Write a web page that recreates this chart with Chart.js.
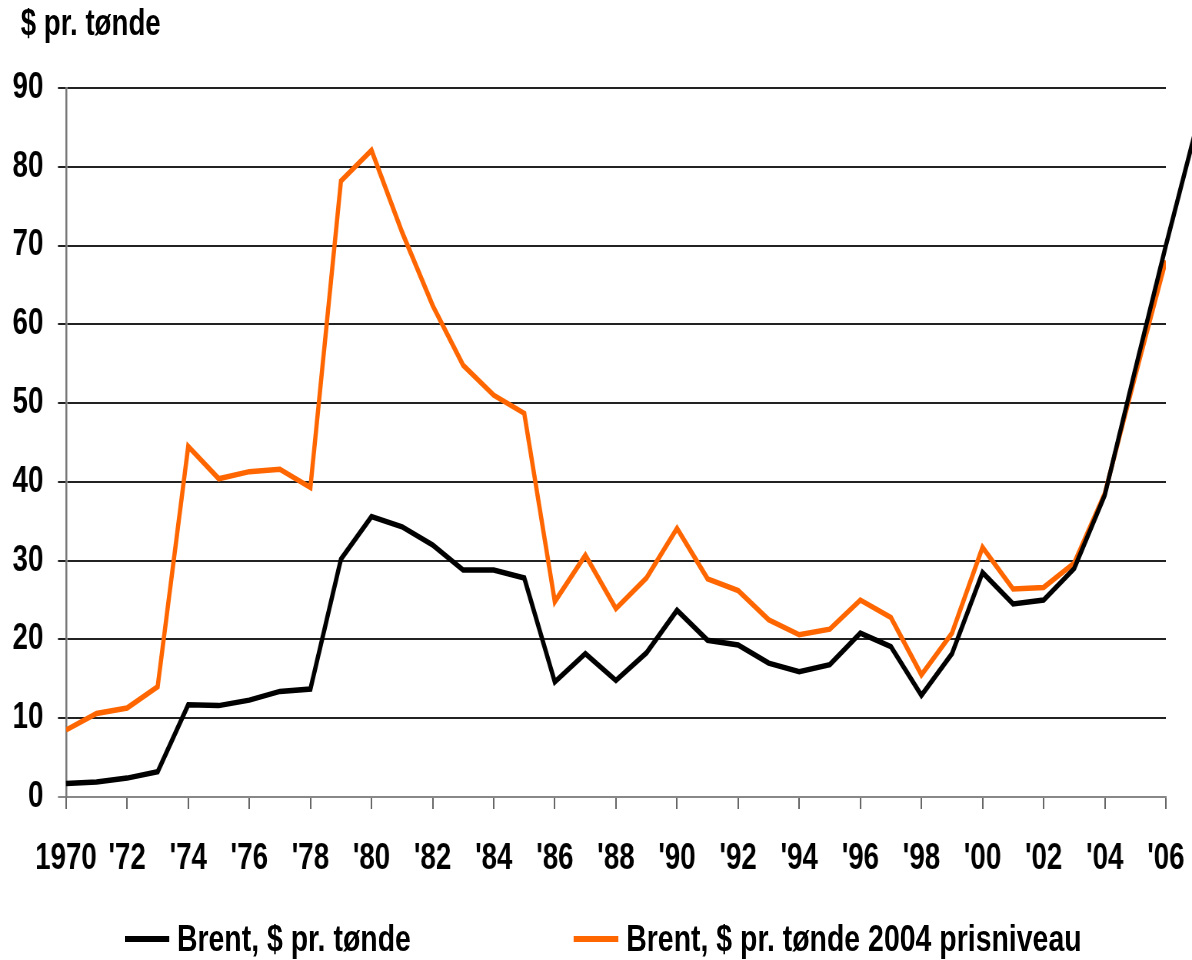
<!DOCTYPE html>
<html>
<head>
<meta charset="utf-8">
<script src="https://cdn.jsdelivr.net/npm/chart.js@4.4.1/dist/chart.umd.min.js"></script>
<style>
  html, body { margin: 0; padding: 0; background: #fff; overflow: hidden; }
  #frame { width: 1192px; height: 960px; overflow: hidden; position: relative; }
  /* the reference type is condensed, so the chart is drawn 1.3x wider and squeezed back */
  #wrap {
    position: absolute; left: 0; top: 0;
    width: 1550px; height: 960px;
    transform: scaleX(0.76903); transform-origin: 0 0;
    font-family: "Liberation Sans", Arial, sans-serif;
    font-weight: bold; color: #000;
  }
  #title {
    position: absolute; left: 27px; top: 5px;
    font-size: 36px; line-height: 36px; white-space: nowrap;
  }
  #legend {
    position: absolute; left: 162px; top: 920px;
    display: flex; gap: 212px;
    font-size: 37px; line-height: 37px;
  }
  .item { display: flex; align-items: center; white-space: nowrap; }
  .swatch { width: 58px; height: 6px; margin-right: 10px; }
</style>
</head>
<body>
<div id="frame">
  <div id="wrap">
    <canvas id="oilChart"></canvas>
    <div id="title">$ pr. tønde</div>
    <div id="legend"></div>
  </div>
</div>
<script>
  // Brent oil price, USD per barrel
  const years = [1970, 1971, 1972, 1973, 1974, 1975, 1976, 1977, 1978, 1979,
                 1980, 1981, 1982, 1983, 1984, 1985, 1986, 1987, 1988, 1989,
                 1990, 1991, 1992, 1993, 1994, 1995, 1996, 1997, 1998, 1999,
                 2000, 2001, 2002, 2003, 2004, 2005, 2006, 2007];
  const brentNominal = [1.7, 1.9, 2.4, 3.2, 11.7, 11.6, 12.3, 13.4, 13.7, 30.2,
                        35.6, 34.3, 32.0, 28.8, 28.8, 27.8, 14.6, 18.2, 14.8, 18.3,
                        23.7, 19.9, 19.3, 17.0, 15.9, 16.8, 20.8, 19.1, 12.9, 18.2,
                        28.5, 24.5, 25.0, 29.0, 38.3, 54.3, 70.0, 85.0];
  const brentReal2004 = [8.5, 10.6, 11.3, 14.0, 44.5, 40.4, 41.3, 41.6, 39.3, 78.2,
                         82.1, 71.7, 62.4, 54.8, 51.0, 48.7, 24.8, 30.7, 23.9, 27.8,
                         34.1, 27.7, 26.2, 22.5, 20.6, 21.3, 25.0, 22.8, 15.5, 20.8,
                         31.7, 26.4, 26.6, 29.7, 38.5, 53.5, 68.1];
  const seriesLabels = ["Brent, $ pr. tønde", "Brent, $ pr. tønde 2004 prisniveau"];
  const yTicks = [0, 10, 20, 30, 40, 50, 60, 70, 80, 90];
  const xTicks = [1970, 1972, 1974, 1976, 1978, 1980, 1982, 1984, 1986, 1988,
                  1990, 1992, 1994, 1996, 1998, 2000, 2002, 2004, 2006];

  const fontFamily = '"Liberation Sans", Arial, sans-serif';

  function toPoints(values) {
    return values.map((v, i) => ({ x: years[i], y: v }));
  }

  const ctx = document.getElementById("oilChart").getContext("2d");
  const chart = new Chart(ctx, {
    type: "line",
    data: {
      datasets: [
        {
          label: seriesLabels[0],
          data: toPoints(brentNominal),
          borderColor: "#000000",
          borderWidth: 5.5,
          pointRadius: 0,
          tension: 0,
          clip: false   // the 2007 point runs off past the right edge
        },
        {
          label: seriesLabels[1],
          data: toPoints(brentReal2004),
          borderColor: "#ff6600",
          borderWidth: 5.5,
          pointRadius: 0,
          tension: 0
        }
      ]
    },
    options: {
      responsive: true,
      maintainAspectRatio: false,
      animation: false,
      layout: { padding: { left: 0, right: 34, top: 88, bottom: 0 } },
      plugins: {
        legend: { display: false },
        tooltip: { enabled: false },
        title: { display: false }
      },
      scales: {
        x: {
          type: "linear",
          min: 1970,
          max: 2006.001,
          afterFit: scale => { scale.height = 163; },
          afterBuildTicks: scale => {
            scale.ticks = xTicks.map(v => ({ value: v }));
          },
          ticks: {
            autoSkip: false,
            maxRotation: 0,
            padding: 0,
            color: "#000",
            // tall line box pushes the labels down without widening the side padding
            font: { family: fontFamily, size: 36, weight: "bold", lineHeight: 2.7556 },
            callback: v => v === 1970 ? "1970" : "'" + String(v).slice(2)
          },
          grid: { drawOnChartArea: false, drawTicks: true, tickLength: 12, color: "#666", lineWidth: 2 },
          border: { display: true, color: "#888", width: 2 }
        },
        y: {
          min: 0,
          max: 90,
          afterFit: scale => { scale.width = 85.8; },
          afterBuildTicks: scale => {
            scale.ticks = yTicks.map(v => ({ value: v }));
          },
          ticks: {
            padding: 19,
            color: "#000",
            font: { family: fontFamily, size: 36, weight: "bold" }
          },
          grid: {
            color: c => (c.tick && c.tick.value === 0) ? "#888" : "#222",
            lineWidth: 2,
            tickLength: 10.4
          },
          border: { display: true, color: "#777", width: 2.5 }
        }
      }
    }
  });

  // legend as html items, built from the datasets
  const legendEl = document.getElementById("legend");
  chart.data.datasets.forEach(ds => {
    const item = document.createElement("div");
    item.className = "item";
    const sw = document.createElement("span");
    sw.className = "swatch";
    sw.style.background = ds.borderColor;
    const txt = document.createElement("span");
    txt.textContent = ds.label;
    item.appendChild(sw);
    item.appendChild(txt);
    legendEl.appendChild(item);
  });
</script>
</body>
</html>
